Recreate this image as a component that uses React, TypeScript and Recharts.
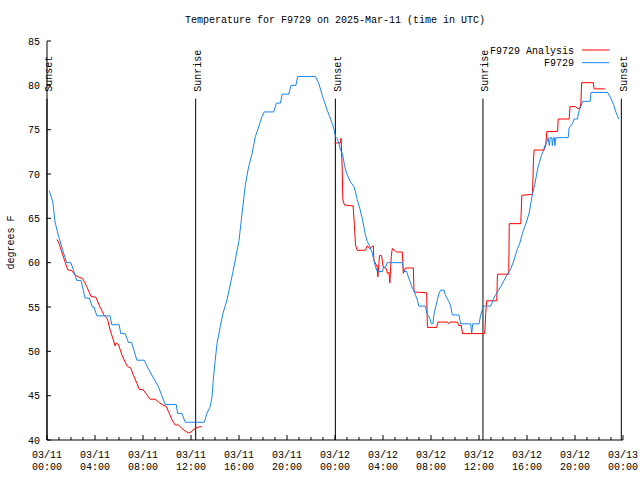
import React from 'react';
import { LineChart, Line, XAxis, YAxis, ReferenceLine, Legend } from 'recharts';

const FONT = "'Liberation Mono', 'DejaVu Sans Mono', monospace";

// Hours since 03/11 00:00 UTC, and temperature (degrees F)
const blueHours = [0.19,0.48,0.67,0.94,1.36,1.64,1.98,2.25,2.48,2.84,3.17,3.53,3.78,3.92,4.15,5.26,5.40,6.01,6.15,6.51,6.79,7.05,7.49,8.10,8.46,8.87,9.29,9.57,9.85,10.77,10.88,11.24,11.52,13.11,13.33,13.61,13.75,13.88,14.02,14.17,14.44,14.67,15.0,15.5,16.0,16.25,16.53,16.8,17.09,17.36,17.64,17.92,18.11,18.89,19.12,19.45,19.59,20.14,20.34,20.74,20.89,22.37,22.65,22.93,23.35,23.77,23.92,24.04,24.18,24.32,24.46,24.62,24.79,24.96,25.29,25.57,25.71,25.85,26.07,26.27,26.4,26.54,26.69,26.88,27.1,27.24,27.38,27.52,27.94,28.05,28.21,28.36,29.61,29.74,29.97,30.16,30.3,30.44,30.58,30.72,30.86,30.99,31.55,31.64,31.91,32.03,32.16,32.24,32.39,32.53,32.66,32.8,33.08,33.22,33.49,33.64,33.78,34.33,34.47,35.31,35.39,35.48,36.0,36.14,36.37,36.98,37.17,37.35,37.54,37.81,38.09,38.31,38.65,38.92,39.07,39.21,39.4,39.62,39.82,39.98,40.18,40.32,40.46,40.65,40.82,40.93,41.09,41.21,41.38,41.49,41.65,41.76,41.86,41.94,42.07,42.11,42.2,42.28,42.32,42.4,43.43,43.51,43.8,43.93,44.2,44.35,44.49,44.63,45.27,45.33,46.72,47.0,47.22,47.41,47.64];
const blueTemps = [68.1,66.9,64.6,63.1,61.2,60.0,60.0,59.0,58.0,58.0,56.0,56.0,55.0,55.0,54.0,54.0,53.0,53.0,52.0,52.0,51.0,51.0,49.0,49.0,48.0,47.0,46.0,45.0,44.0,44.0,43.0,43.0,42.0,42.0,43.0,43.8,44.9,47.1,49.0,50.9,52.8,54.3,55.8,59.0,62.5,65.5,68.8,70.8,72.3,74.2,75.3,76.5,77.0,77.0,78.0,78.0,79.0,79.0,80.0,80.0,81.0,81.0,80.2,78.9,77.2,75.7,75.0,74.2,74.0,73.5,72.7,72.3,71.0,70.1,69.1,68.6,68.0,67.1,66.1,65.0,64.1,63.1,62.4,61.9,61.1,60.3,59.5,59.0,59.0,59.5,59.5,60.0,60.0,59.0,59.0,58.2,57.7,57.1,56.9,56.3,55.8,55.1,55.1,54.3,53.7,53.1,53.1,54.1,55.0,55.8,56.5,56.9,56.9,56.3,55.6,55.1,54.1,54.1,53.1,53.1,52.0,53.1,53.1,54.1,55.1,55.1,55.8,56.3,56.7,57.3,58.0,58.6,59.3,60.3,61.0,61.6,62.2,63.3,64.1,64.7,65.6,66.7,67.8,68.8,70.1,70.8,71.6,72.1,72.7,73.2,73.6,74.1,73.2,74.1,74.1,73.2,74.1,74.1,73.2,74.1,74.1,75.2,75.7,76.2,76.2,77.2,77.6,78.2,78.2,79.2,79.2,78.5,77.8,77.0,76.2];

const redHours = [0.81,0.94,1.09,1.23,1.5,1.73,2.06,2.34,2.61,2.98,3.31,3.67,4.07,4.42,4.78,5.03,5.26,5.48,5.68,5.76,5.95,6.24,6.51,6.7,6.99,7.2,7.49,7.7,7.99,8.32,8.6,9.02,9.37,9.71,9.93,10.13,10.41,10.68,10.96,11.24,11.52,11.79,12.02,12.21,12.5,12.77,12.91,18,23.96,24.46,24.48,24.51,24.6,24.65,24.79,25.51,25.62,25.71,25.85,26.54,26.69,26.88,27.19,27.24,27.52,27.57,27.71,27.88,28.02,28.3,28.36,28.5,28.57,28.69,28.77,29.05,29.13,29.61,29.69,29.88,30.53,30.58,31.64,31.7,32.47,32.58,33.36,33.47,33.58,34.2,34.33,34.53,34.62,36.48,36.56,36.64,37.48,37.54,38.48,38.52,39.48,39.57,40.46,40.54,40.59,41.42,41.57,41.65,42.55,42.6,43.51,43.59,44.07,44.2,44.41,44.49,44.55,45.52,45.6,46.49];
const redTemps = [62.6,62.4,61.8,61.2,60.1,59.2,59.1,58.6,58.4,58.2,57.3,56.2,56.1,55.0,54.0,53.7,52.4,51.5,50.6,50.9,50.8,49.6,48.8,48.3,48.1,47.3,46.4,45.7,45.7,45.1,44.6,44.6,44.2,43.9,43.8,43.2,42.3,41.7,41.7,41.3,41.0,40.8,40.9,41.2,41.4,41.5,41.5,null,73.5,73.5,74.0,74.0,70.6,67.1,66.5,66.4,64.2,62.0,61.4,61.4,61.9,61.6,61.9,60.3,59.5,58.4,60.8,60.8,59.5,59.3,58.8,58.9,57.7,60.7,61.6,61.3,61.2,61.2,58.8,59.4,59.4,56.7,56.6,52.7,52.7,53.3,53.3,53.1,53.3,53.3,52.9,52.9,52.0,52.0,54.3,55.7,55.7,58.7,58.7,64.4,64.4,67.6,67.7,71.6,72.7,72.7,73.3,74.8,74.8,76.2,76.2,77.6,77.6,77.4,77.4,78.0,80.3,80.3,79.6,79.6];

const xMajorHours = [0, 4, 8, 12, 16, 20, 24, 28, 32, 36, 40, 44, 48];
const xTickDates = ['03/11','03/11','03/11','03/11','03/11','03/11','03/12','03/12','03/12','03/12','03/12','03/12','03/13'];
const xTickTimes = ['00:00','04:00','08:00','12:00','16:00','20:00','00:00','04:00','08:00','12:00','16:00','20:00','00:00'];
const xMinorHours = Array.from({ length: 49 }, (_, i) => i);
const yTicks = [40, 45, 50, 55, 60, 65, 70, 75, 80, 85];

const sunHours = [0, 12.39, 24.03, 36.33, 47.86];
const sunLabels = ['Sunset', 'Sunrise', 'Sunset', 'Sunrise', 'Sunset'];
const sunLineTop = 78.5;

const titleText = 'Temperature for F9729 on 2025-Mar-11 (time in UTC)';
const yLabelText = 'degrees F';
const redName = 'F9729 Analysis';
const blueName = 'F9729';
const legendOrder = [redName, blueName];
const RED = '#ff0000';
const BLUE = '#1a85eb';

const blueData = blueHours.map((h, i) => ({ h, t: blueTemps[i] }));
const redData = redHours.map((h, i) => ({ h, t: redTemps[i] }));

function BottomTick(props: any) {
  const { x, y, payload } = props;
  const idx = xMajorHours.indexOf(payload.value);
  const major = idx >= 0;
  return (
    <g>
      <line x1={x} x2={x} y1={y} y2={y - (major ? 5 : 3)} stroke="#000" strokeWidth={1} />
      {major && (
        <text x={x} y={y} textAnchor="middle" fontFamily={FONT} fontSize={10} fill="#000">
          <tspan x={x} dy={17.6}>{xTickDates[idx]}</tspan>
          <tspan x={x} dy={12.7}>{xTickTimes[idx]}</tspan>
        </text>
      )}
    </g>
  );
}

function TopTick(props: any) {
  const { x, y, payload } = props;
  const major = xMajorHours.indexOf(payload.value) >= 0;
  return <line x1={x} x2={x} y1={y} y2={y + (major ? 5 : 3)} stroke="#000" strokeWidth={1} />;
}

function LeftTick(props: any) {
  const { x, y, payload } = props;
  return (
    <g>
      <line x1={x} x2={x + 4} y1={y} y2={y} stroke="#000" strokeWidth={1} />
      <text x={x - 7} y={y} dy="0.36em" textAnchor="end" fontFamily={FONT} fontSize={10} fill="#000">
        {payload.value}
      </text>
    </g>
  );
}

function RightTick(props: any) {
  const { x, y } = props;
  return <line x1={x} x2={x - 4} y1={y} y2={y} stroke="#000" strokeWidth={1} />;
}

function SunLabel(props: any) {
  const vb = props.viewBox || {};
  const x = (vb.x ?? 0) + 5.5;
  const y = (vb.y ?? 0) - 7;
  return (
    <text x={x} y={y} transform={`rotate(-90 ${x} ${y})`} textAnchor="start" fontFamily={FONT} fontSize={10} fill="#000">
      {props.text}
    </text>
  );
}

function LegendBox(props: any) {
  const payload = [...(props.payload || [])].sort(
    (a: any, b: any) => legendOrder.indexOf(a.value) - legendOrder.indexOf(b.value)
  );
  return (
    <svg width={180} height={30} style={{ display: 'block', overflow: 'visible' }}>
      {payload.map((p: any, i: number) => (
        <g key={i}>
          <text x={134} y={10 + i * 12.7} dy="0.36em" textAnchor="end" fontFamily={FONT} fontSize={10} fill="#000">
            {p.value}
          </text>
          <line x1={142} x2={169} y1={10 + i * 12.7} y2={10 + i * 12.7} stroke={p.color} strokeWidth={1} />
        </g>
      ))}
    </svg>
  );
}

export default function App() {
  return (
    <div style={{ position: 'absolute', left: 0, top: 0, width: 640, height: 480, background: '#fff' }}>
      <LineChart width={640} height={480} margin={{ top: 41, right: 17, bottom: 4, left: 7 }}>
        <XAxis
          dataKey="h"
          type="number"
          domain={[0, 48]}
          allowDataOverflow
          ticks={xMinorHours}
          interval={0}
          height={36}
          tickSize={0}
          tickMargin={0}
          tick={<BottomTick />}
          axisLine={{ stroke: '#000', strokeWidth: 1 }}
          tickLine={false}
        />
        <XAxis
          xAxisId="top"
          orientation="top"
          dataKey="h"
          type="number"
          domain={[0, 48]}
          allowDataOverflow
          ticks={xMinorHours}
          interval={0}
          height={0}
          tickSize={0}
          tickMargin={0}
          tick={<TopTick />}
          axisLine={{ stroke: '#000', strokeWidth: 1 }}
          tickLine={false}
        />
        <YAxis
          type="number"
          domain={[40, 85]}
          allowDataOverflow
          ticks={yTicks}
          interval={0}
          width={40}
          tickSize={0}
          tickMargin={0}
          tick={<LeftTick />}
          axisLine={{ stroke: '#000', strokeWidth: 1 }}
          tickLine={false}
        />
        <YAxis
          yAxisId="right"
          orientation="right"
          type="number"
          domain={[40, 85]}
          allowDataOverflow
          ticks={yTicks}
          interval={0}
          width={0}
          tickSize={0}
          tickMargin={0}
          tick={<RightTick />}
          axisLine={{ stroke: '#000', strokeWidth: 1 }}
          tickLine={false}
        />
        {sunHours.map((h, i) => (
          <ReferenceLine
            key={'sun' + i}
            segment={[{ x: h, y: 40 }, { x: h, y: sunLineTop }]}
            stroke="#000"
            strokeWidth={1}
            ifOverflow="visible"
            label={(p: any) => <SunLabel viewBox={p.viewBox} text={sunLabels[i]} />}
          />
        ))}
        <Line
          data={redData}
          dataKey="t"
          name={redName}
          stroke={RED}
          strokeWidth={1}
          dot={false}
          activeDot={false}
          connectNulls={false}
          type="linear"
          isAnimationActive={false}
        />
        <Line
          data={blueData}
          dataKey="t"
          name={blueName}
          stroke={BLUE}
          strokeWidth={1}
          dot={false}
          activeDot={false}
          type="linear"
          isAnimationActive={false}
        />
        <Legend
          layout="horizontal"
          verticalAlign="middle"
          align="center"
          wrapperStyle={{ position: 'absolute', left: 440, top: 40, width: 180, height: 30 }}
          content={(p: any) => <LegendBox payload={p.payload} />}
        />
        <text x={335} y={23} textAnchor="middle" fontFamily={FONT} fontSize={10} fill="#000">
          {titleText}
        </text>
        <text x={14} y={242.5} transform="rotate(-90 14 242.5)" textAnchor="middle" fontFamily={FONT} fontSize={10} fill="#000">
          {yLabelText}
        </text>
      </LineChart>
    </div>
  );
}
